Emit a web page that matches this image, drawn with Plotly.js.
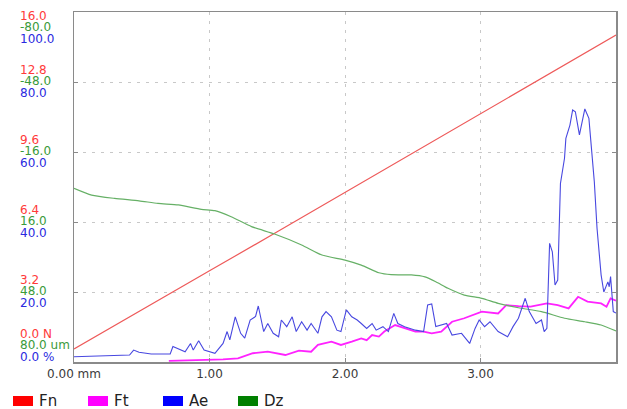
<!DOCTYPE html>
<html>
<head>
<meta charset="utf-8">
<script src="https://cdn.plot.ly/plotly-3.0.1.min.js"></script>
<style>html,body{margin:0;padding:0;background:#fff;}#chart{width:627px;height:409px;}</style>
</head>
<body>
<div id="chart"></div>
<script>
// ---- data ----
const fnX = [0, 0.5, 1.0, 1.5, 2.0, 2.5, 3.0, 3.5, 4.0];
const fnY = [0.6, 2.4, 4.17, 5.95, 7.75, 9.55, 11.35, 13.15, 14.95];

const ftX = [0.70, 0.80, 0.97, 1.10, 1.21, 1.32, 1.43, 1.56, 1.66, 1.75, 1.80, 1.90, 1.97, 2.05, 2.12, 2.16, 2.20, 2.25, 2.29, 2.37, 2.44, 2.52, 2.58, 2.64, 2.71, 2.79, 2.88, 3.01, 3.13, 3.19, 3.28, 3.37, 3.49, 3.57, 3.65, 3.72, 3.79, 3.89, 3.93, 3.96, 4.0];
const ftY = [0.05, 0.08, 0.1, 0.12, 0.17, 0.4, 0.47, 0.32, 0.52, 0.47, 0.78, 0.93, 0.78, 0.93, 1.08, 1.0, 1.23, 1.16, 1.39, 1.69, 1.54, 1.39, 1.39, 1.31, 1.39, 1.84, 2.0, 2.3, 2.22, 2.6, 2.55, 2.53, 2.68, 2.6, 2.45, 2.98, 2.76, 2.68, 2.53, 2.91, 2.8];

const aeX = [0, 0.35, 0.41, 0.44, 0.48, 0.57, 0.71, 0.73, 0.82, 0.86, 0.88, 0.92, 0.96, 1.04, 1.10, 1.13, 1.15, 1.19, 1.23, 1.26, 1.30, 1.34, 1.36, 1.40, 1.43, 1.47, 1.51, 1.53, 1.57, 1.61, 1.64, 1.68, 1.72, 1.75, 1.80, 1.83, 1.86, 1.90, 1.94, 1.97, 2.01, 2.05, 2.09, 2.12, 2.16, 2.20, 2.23, 2.28, 2.32, 2.36, 2.39, 2.44, 2.52, 2.58, 2.61, 2.64, 2.67, 2.75, 2.79, 2.86, 2.92, 2.96, 2.99, 3.03, 3.07, 3.13, 3.20, 3.24, 3.28, 3.33, 3.36, 3.41, 3.45, 3.47, 3.49, 3.51, 3.53, 3.55, 3.57, 3.59, 3.62, 3.63, 3.66, 3.68, 3.70, 3.73, 3.75, 3.77, 3.80, 3.82, 3.84, 3.86, 3.89, 3.91, 3.94, 3.95, 3.96, 3.98, 4.0];
const aeY = [1.5, 2.0, 2.0, 3.4, 2.8, 2.3, 2.3, 4.4, 2.9, 5.3, 3.4, 6.1, 3.4, 2.5, 5.3, 8.7, 6.3, 12.9, 8.2, 6.8, 12, 13, 16, 8.7, 11, 8.2, 7.2, 12, 10.1, 12.9, 8.7, 11.5, 9.1, 11, 8.2, 12.9, 14.4, 12.9, 9.1, 8.7, 14.9, 12.9, 12, 11, 9.6, 11, 9.1, 10.1, 8.7, 13.9, 11, 10.1, 9.1, 8.7, 16.3, 16.6, 10.1, 11, 7.7, 8.2, 5.3, 9.6, 12, 10.1, 11.5, 8.7, 7.2, 10.1, 12.5, 18.2, 14.4, 11, 12, 8.7, 9.6, 33.9, 31.5, 22, 23.4, 51, 58.2, 63.9, 67.7, 72, 71.5, 64.9, 68.7, 72.3, 69.6, 61, 51.5, 38.2, 24.9, 20, 22.9, 21.5, 24.4, 14.4, 14];

const dzX = [0, 0.13, 0.30, 0.48, 0.62, 0.77, 0.94, 1.04, 1.16, 1.31, 1.48, 1.68, 1.83, 2.00, 2.12, 2.25, 2.34, 2.49, 2.59, 2.67, 2.76, 2.88, 3.01, 3.13, 3.28, 3.45, 3.62, 3.77, 3.89, 4.0];
const dzY = [0.6, 3.7, 5.2, 6.3, 7.5, 8.2, 10.2, 10.8, 13.6, 18.1, 21.5, 26.5, 31.1, 33.4, 35.7, 39.2, 40.1, 40.2, 41.1, 43.3, 46.3, 49.4, 50.9, 53.2, 55.2, 57, 60, 61.6, 63.1, 65.8];

const xTickVals = [0, 1, 2, 3, 4];
const xTickText = ['0.00 mm', '1.00', '2.00', '3.00', '4.00'];
const fnTickVals = [0, 3.2, 6.4, 9.6, 12.8, 16];
const fnTickText = ['0.0 N', '3.2', '6.4', '9.6', '12.8', '16.0'];
const dzTickText = ['80.0 um', '48.0', '16.0', '-16.0', '-48.0', '-80.0'];
const aeTickText = ['0.0 %', '20.0', '40.0', '60.0', '80.0', '100.0'];
const legendNames = ['Fn', 'Ft', 'Ae', 'Dz'];

// ---- styling ----
const W = 627, H = 409;
const L = 74, R = 616, T = 12, B = 362;
const px = x => (x - L) / (R - L);
const py = y => (B - y) / (B - T);
const FONT = 'DejaVu Sans, sans-serif';
const lineCol = {Fn: '#ee5a5a', Ft: '#ff22ff', Ae: '#4848e0', Dz: '#66b066'};
const labCol = {Fn: '#ff3a3a', Dz: '#3a9a3a', Ae: '#2a2ae0'};
const legCol = ['#ff0000', '#ff00ff', '#0000ff', '#008000'];

const traces = [
  {x: fnX, y: fnY, mode: 'lines', line: {color: lineCol.Fn, width: 1.2}, yaxis: 'y', name: 'Fn', showlegend: false, hoverinfo: 'skip'},
  {x: dzX, y: dzY, mode: 'lines', line: {color: lineCol.Dz, width: 1.2, shape: 'spline', smoothing: 0.6}, yaxis: 'y2', name: 'Dz', showlegend: false, hoverinfo: 'skip'},
  {x: ftX, y: ftY, mode: 'lines', line: {color: lineCol.Ft, width: 1.8}, yaxis: 'y', name: 'Ft', showlegend: false, hoverinfo: 'skip'},
  {x: aeX, y: aeY, mode: 'lines', line: {color: lineCol.Ae, width: 1.1}, yaxis: 'y3', name: 'Ae', showlegend: false, hoverinfo: 'skip'}
];

const annotations = [];
const shapes = [];
const n = fnTickVals.length;
fnTickVals.forEach((v, i) => {
  let adj = 0;
  if (i === 0) adj = 16;
  if (i === n - 1) adj = -16;
  const rows = [[fnTickText[i], labCol.Fn, 12], [dzTickText[i], labCol.Dz, 1], [aeTickText[i], labCol.Ae, -10.5]];
  rows.forEach(r => {
    annotations.push({
      xref: 'paper', yref: 'y', x: px(19), y: v, xanchor: 'left', yanchor: 'middle',
      yshift: r[2] + adj, showarrow: false, text: r[0],
      font: {family: FONT, size: 12, color: r[1]}, borderpad: 0
    });
  });
});

legendNames.forEach((nm, i) => {
  const x0 = 13 + 75 * i;
  shapes.push({type: 'rect', xref: 'paper', yref: 'paper', x0: px(x0), x1: px(x0 + 20), y0: py(396), y1: py(406), fillcolor: legCol[i], line: {width: 0}});
  annotations.push({xref: 'paper', yref: 'paper', x: px(x0 + 24), y: py(400.5), xanchor: 'left', yanchor: 'middle', showarrow: false, text: nm, font: {family: FONT, size: 15, color: '#222'}});
});

const axCommon = {showline: true, linecolor: '#8a8a8a', linewidth: 1.5, ticks: 'inside', ticklen: 4, tickcolor: '#8a8a8a', zeroline: false};

const layout = {
  width: W, height: H,
  margin: {l: L, r: W - R, t: T, b: H - B, pad: 0},
  paper_bgcolor: '#fff', plot_bgcolor: '#fff',
  showlegend: false,
  xaxis: Object.assign({}, axCommon, {range: [0, 4], tickvals: xTickVals, ticktext: xTickText, mirror: true,
    showgrid: true, gridcolor: '#c8c8c8', griddash: '3px,6px', gridwidth: 1,
    tickfont: {family: FONT, size: 12, color: '#3a3a3a'}}),
  yaxis: Object.assign({}, axCommon, {range: [0, 16], tickvals: fnTickVals, showticklabels: false, mirror: 'ticks',
    showgrid: true, gridcolor: '#c8c8c8', griddash: '3px,6px', gridwidth: 1}),
  yaxis2: {range: [80, -80], overlaying: 'y', visible: false, showgrid: false, zeroline: false},
  yaxis3: {range: [0, 100], overlaying: 'y', visible: false, showgrid: false, zeroline: false},
  annotations: annotations,
  shapes: shapes
};

Plotly.newPlot('chart', traces, layout, {staticPlot: true, displayModeBar: false});
</script>
</body>
</html>
